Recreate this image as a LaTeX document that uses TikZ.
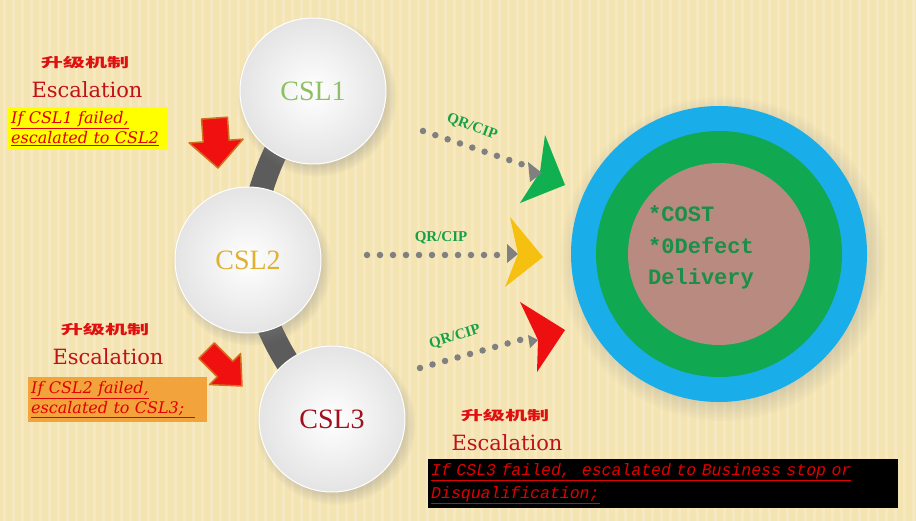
\documentclass[tikz,border=0pt]{standalone}
\usepackage{fontspec}
\setmainfont{DejaVu Serif}
\newfontfamily\cslfont{Liberation Serif}
\newfontfamily\monofont{Liberation Mono}
\newfontfamily\cjk{Noto Sans CJK SC}[FakeStretch=1.7]
\usetikzlibrary{shadows,backgrounds}
\definecolor{paper}{HTML}{F4E4B2}
\definecolor{ballgray}{HTML}{E4E4E4}
\definecolor{bandgray}{HTML}{5C5C5C}
\definecolor{cslgreen}{HTML}{8DC060}
\definecolor{cslgold}{HTML}{E0B030}
\definecolor{cslred}{HTML}{A0101E}
\definecolor{cjkred}{HTML}{E01010}
\definecolor{escred}{HTML}{C0101A}
\definecolor{failyellow}{HTML}{FFFF00}
\definecolor{failorange}{HTML}{F3A33C}
\definecolor{failred}{HTML}{E00000}
\definecolor{arrowred}{HTML}{F01010}
\definecolor{arroworange}{HTML}{D07020}
\definecolor{dotgray}{HTML}{808080}
\definecolor{qrgreen}{HTML}{18A048}
\definecolor{chevgreen}{HTML}{10B050}
\definecolor{chevyellow}{HTML}{F5C010}
\definecolor{chevred}{HTML}{EE1010}
\definecolor{ringblue}{HTML}{19AEEA}
\definecolor{ringgreen}{HTML}{10A850}
\definecolor{coremauve}{HTML}{B88A80}
\definecolor{goalgreen}{HTML}{1A8F48}
\tikzset{
  ball/.style={circle, minimum size=146pt, inner color=white, outer color=ballgray,
    draw=white, line width=1pt, font=\cslfont\fontsize{28}{30}\selectfont,
    circular drop shadow={shadow xshift=3pt, shadow yshift=-5pt, opacity=.3}},
  band/.style={draw=bandgray, line width=24pt},
  cjklabel/.style={font=\cjk\bfseries\fontsize{13}{15}\selectfont, text=cjkred},
  esclabel/.style={anchor=base, font=\fontsize{21}{23}\selectfont, text=escred},
  failbox/.style={anchor=north west, inner xsep=3pt, inner ysep=4pt, align=left,
    font=\itshape\fontsize{16}{20}\selectfont},
  qrline/.style={draw=dotgray, line width=6.5pt, line cap=round, dash pattern=on 0pt off 13pt},
  qrlabel/.style={font=\cslfont\bfseries\fontsize{15}{17}\selectfont, text=qrgreen, inner sep=1pt},
  goaltext/.style={anchor=base west, inner sep=0pt, font=\monofont\bfseries\fontsize{22}{24}\selectfont, text=goalgreen},
  blockarrow/.style={fill=arrowred, draw=arroworange, line width=1.5pt, line join=round}
}
\begin{document}
\begin{tikzpicture}[x=1pt,y=1pt]
\useasboundingbox (0,0) rectangle (916,-521);
\begin{scope}[on background layer]
\fill[paper] (0,0) rectangle (916,-521);
\foreach \x in {4,13,...,916} \draw[white, opacity=.2, line width=3pt] (\x,0) -- (\x,-521);
\end{scope}

\node[ball, text=cslgreen] (csl1) at (313,-91) {CSL1};
\node[ball, text=cslgold] (csl2) at (248,-260) {CSL2};
\node[ball, text=cslred] (csl3) at (332,-419) {CSL3};
\begin{scope}[on background layer]
\draw[band] (csl1.center) to[bend right=15] (csl2.center);
\draw[band] (csl2.center) to[bend right=15] (csl3.center);
\end{scope}

\node[circle, fill=ringblue, minimum size=296pt, circular drop shadow={shadow xshift=3pt, shadow yshift=-4pt, opacity=.3}] (goal) at (719,-254) {};
\node[circle, fill=ringgreen, minimum size=246pt] (goalmid) at (goal.center) {};
\node[circle, fill=coremauve, minimum size=182pt] (goalcore) at (goal.center) {};
\node[goaltext] (cost) at (648,-222) {*COST};
\node[goaltext] (defect) at (648,-254) {*0Defect};
\node[goaltext] (delivery) at (648,-285) {Delivery};

\node[cjklabel] (cn1) at (85,-63) {升级机制};
\node[esclabel] (esc1) at (87,-98) {Escalation};
\node[failbox, fill=failyellow, text=failred, text width=154pt, minimum height=43pt] (box1) at (8,-107)
  {\underline{If CSL1 failed,}\\\underline{escalated to CSL2}};
\node[cjklabel] (cn2) at (105,-330) {升级机制};
\node[esclabel] (esc2) at (108,-365) {Escalation};
\node[failbox, fill=failorange, text=failred, text width=173pt, minimum height=43pt] (box2) at (28,-377)
  {\underline{If CSL2 failed,}\\\underline{escalated to CSL3;\ \ }};
\node[cjklabel] (cn3) at (505,-416) {升级机制};
\node[esclabel] (esc3) at (507,-450) {Escalation};
\node[failbox, fill=black, text=failred, text width=464pt, minimum height=46pt,
  font=\monofont\itshape\fontsize{16.5}{23}\selectfont] (box3) at (428,-459)
  {\underline{If CSL3 failed,\ \ escalated to Business stop or}\\\underline{Disqualification;}};

\draw[blockarrow, shift={(218,-168)}, rotate=4] (0,0) -- (-27,27) -- (-13,27) -- (-13,50) -- (13,50) -- (13,27) -- (27,27) -- cycle;
\draw[blockarrow, shift={(242,-386)}, rotate=45] (0,0) -- (-22,24) -- (-11,24) -- (-11,50) -- (11,50) -- (11,24) -- (22,24) -- cycle;

\coordinate (qr1s) at (423,-131);
\coordinate (qr1e) at (527,-166);
\coordinate (qr2s) at (367,-255);
\coordinate (qr2e) at (505,-255);
\coordinate (qr3s) at (420,-368);
\coordinate (qr3e) at (527,-338);
\draw[qrline] (qr1s) -- (qr1e);
\draw[qrline] (qr2s) -- (qr2e);
\draw[qrline] (qr3s) -- (qr3e);
\node[qrlabel, rotate=-20] (qr1) at (472,-127) {QR/CIP};
\node[qrlabel] (qr2) at (441,-238) {QR/CIP};
\node[qrlabel, rotate=17] (qr3) at (455,-337) {QR/CIP};

\fill[chevgreen] (545,-135) -- (565,-185) -- (520,-203) -- (540,-172) -- cycle;
\fill[dotgray] (528,-162) -- (542,-173) -- (530,-182) -- cycle;
\fill[chevyellow] (510,-217) -- (543,-257) -- (505,-287) -- (518,-254) -- cycle;
\fill[dotgray] (507,-244) -- (518,-254) -- (507,-263) -- cycle;
\fill[chevred] (520,-302) -- (565,-330) -- (537,-372) -- (538,-340) -- cycle;
\fill[dotgray] (528,-335) -- (538,-340) -- (530,-348) -- cycle;
\end{tikzpicture}
\end{document}
